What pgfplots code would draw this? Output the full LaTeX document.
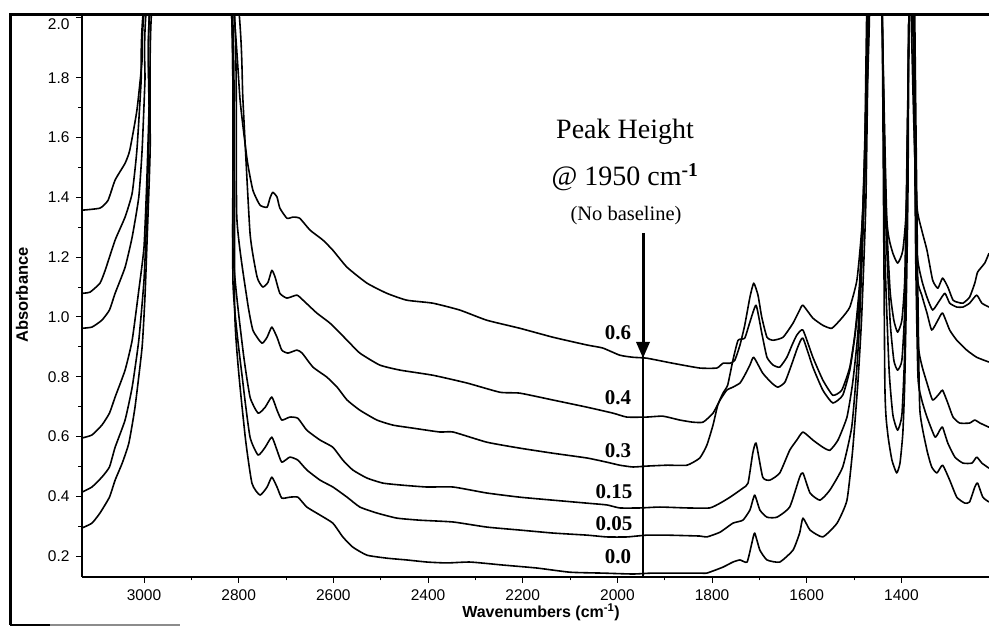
\documentclass[border=0pt]{standalone}
\usepackage{fontspec}
\setmainfont{Liberation Sans}
\newfontfamily\tnr{Liberation Serif}
\usepackage{pgfplots}
\pgfplotsset{compat=1.18}
\tikzset{spec/.style={black, line width=1.6pt, line join=round, mark=none, smooth, tension=0.3}}
\begin{document}
\begin{tikzpicture}
\path[use as bounding box] (0,0) rectangle (989pt,627pt);
\begin{axis}[
  at={(82pt,50pt)}, anchor=south west,
  width=907pt, height=562pt, scale only axis,
  x dir=reverse,
  xmin=1215, xmax=3131, ymin=0.13, ymax=2.01,
  axis x line*=bottom, axis y line*=left,
  axis line style={line width=2.6pt},
  xtick={1400,1600,1800,2000,2200,2400,2600,2800,3000},
  ytick={0.2,0.4,0.6,0.8,1.0,1.2,1.4,1.6,1.8},
  extra y ticks={2.0},
  extra y tick style={yticklabel style={yshift=-6pt}},
  minor x tick num=1, minor y tick num=1,
  tick align=outside,
  major tick length=6pt, minor tick length=3.5pt,
  tick style={line width=1pt,black},
  /pgf/number format/assume math mode=true,
  xticklabel style={/pgf/number format/set thousands separator={},
    font=\fontsize{15.5}{18}\selectfont, yshift=-3pt},
  yticklabel style={/pgf/number format/fixed, /pgf/number format/fixed zerofill,
    /pgf/number format/precision=1, font=\fontsize{15.5}{18}\selectfont, xshift=-3pt},
]
% 0.6
\addplot[spec] coordinates {(3131,1.357)(3093,1.364)(3076,1.390)(3061,1.458)(3040,1.514)(3030,1.558)(3015,1.691)(3004,1.859)(2998,2.05)(2900,3.5)(2812,2.05)(2797,1.725)(2782,1.524)(2770,1.424)(2755,1.374)(2740,1.367)(2734,1.397)(2728,1.417)(2719,1.401)(2713,1.364)(2698,1.330)(2685,1.334)(2671,1.330)(2649,1.290)(2622,1.257)(2601,1.223)(2571,1.166)(2529,1.113)(2487,1.079)(2445,1.056)(2390,1.046)(2333,1.023)(2276,0.989)(2206,0.962)(2136,0.932)(2064,0.906)(2031,0.896)(1995,0.872)(1967,0.865)(1938,0.862)(1883,0.845)(1826,0.829)(1790,0.829)(1777,0.845)(1762,0.845)(1752,0.855)(1741,0.906)(1731,0.972)(1720,1.066)(1712,1.113)(1703,1.073)(1695,0.999)(1684,0.932)(1671,0.922)(1650,0.932)(1629,0.979)(1615,1.023)(1608,1.039)(1587,0.996)(1566,0.972)(1547,0.962)(1526,0.996)(1509,1.033)(1494,1.123)(1484,1.290)(1475,1.558)(1469,2.05)(1440,3.5)(1400,3.5)(1380,2.05)(1374,1.658)(1367,1.367)(1357,1.290)(1346,1.223)(1334,1.123)(1323,1.096)(1313,1.130)(1302,1.100)(1291,1.056)(1281,1.049)(1270,1.046)(1256,1.066)(1245,1.113)(1239,1.150)(1224,1.180)(1215,1.213)};
% 0.4
\addplot[spec] coordinates {(3131,1.079)(3114,1.083)(3093,1.113)(3082,1.156)(3061,1.257)(3040,1.334)(3025,1.414)(3015,1.558)(3006,1.792)(3000,2.05)(2900,3.5)(2801,2.05)(2791,1.725)(2776,1.280)(2761,1.133)(2749,1.100)(2738,1.116)(2730,1.156)(2723,1.133)(2713,1.079)(2698,1.063)(2677,1.073)(2664,1.056)(2635,1.013)(2607,0.979)(2571,0.922)(2544,0.879)(2502,0.839)(2459,0.822)(2390,0.805)(2318,0.779)(2248,0.748)(2206,0.745)(2136,0.722)(2064,0.698)(2009,0.678)(1980,0.665)(1938,0.665)(1904,0.668)(1868,0.655)(1841,0.648)(1819,0.648)(1798,0.678)(1783,0.722)(1769,0.755)(1756,0.765)(1741,0.779)(1731,0.805)(1720,0.839)(1712,0.865)(1693,0.812)(1674,0.779)(1661,0.765)(1646,0.782)(1631,0.845)(1619,0.899)(1608,0.929)(1587,0.832)(1566,0.755)(1545,0.712)(1524,0.738)(1509,0.822)(1498,0.939)(1488,1.089)(1479,1.390)(1473,1.725)(1467,2.05)(1455,3.5)(1441,2.05)(1431,1.334)(1420,1.223)(1408,1.180)(1397,1.223)(1389,1.390)(1384,2.05)(1378,3.5)(1376,2.05)(1372,1.558)(1367,1.213)(1357,1.123)(1346,1.066)(1334,1.023)(1319,1.056)(1308,1.079)(1298,1.046)(1283,1.033)(1270,1.033)(1256,1.046)(1241,1.073)(1230,1.046)(1215,1.033)};
% 0.3
\addplot[spec] coordinates {(3131,0.962)(3110,0.966)(3089,0.989)(3073,1.023)(3061,1.079)(3040,1.166)(3025,1.267)(3011,1.401)(3004,1.558)(2998,1.792)(2994,2.05)(2900,3.5)(2810,2.05)(2804,1.334)(2782,1.056)(2770,0.956)(2751,0.912)(2740,0.932)(2730,0.966)(2719,0.932)(2709,0.889)(2696,0.879)(2677,0.889)(2666,0.879)(2643,0.832)(2614,0.799)(2592,0.765)(2571,0.722)(2544,0.688)(2508,0.655)(2474,0.638)(2432,0.628)(2375,0.615)(2347,0.615)(2276,0.581)(2206,0.561)(2136,0.544)(2064,0.528)(2022,0.514)(1995,0.504)(1967,0.498)(1938,0.501)(1895,0.504)(1853,0.504)(1826,0.528)(1811,0.571)(1798,0.638)(1788,0.705)(1777,0.745)(1767,0.772)(1756,0.855)(1745,0.922)(1731,0.929)(1720,0.983)(1707,1.039)(1695,0.946)(1684,0.865)(1671,0.839)(1657,0.832)(1642,0.865)(1631,0.906)(1621,0.939)(1608,0.956)(1587,0.865)(1566,0.789)(1545,0.738)(1526,0.755)(1509,0.832)(1498,0.946)(1488,1.123)(1477,1.558)(1471,2.05)(1455,3.5)(1441,2.05)(1433,1.390)(1424,1.089)(1416,0.989)(1408,0.949)(1399,0.989)(1393,1.123)(1389,1.458)(1384,2.05)(1378,3.5)(1374,2.05)(1372,1.658)(1367,1.146)(1357,1.073)(1346,1.013)(1336,0.956)(1323,0.989)(1313,1.013)(1298,0.956)(1283,0.922)(1262,0.889)(1241,0.865)(1215,0.849)};
% 0.15
\addplot[spec] coordinates {(3131,0.595)(3110,0.605)(3089,0.638)(3073,0.678)(3061,0.732)(3040,0.822)(3025,0.922)(3011,1.089)(3000,1.233)(2994,1.458)(2989,1.725)(2987,2.05)(2900,3.5)(2816,2.05)(2812,1.223)(2791,0.889)(2776,0.732)(2759,0.678)(2744,0.698)(2730,0.732)(2719,0.688)(2709,0.655)(2692,0.665)(2675,0.661)(2656,0.621)(2628,0.588)(2601,0.564)(2580,0.521)(2559,0.488)(2529,0.461)(2495,0.444)(2453,0.437)(2402,0.431)(2347,0.431)(2276,0.411)(2206,0.397)(2136,0.387)(2064,0.377)(2022,0.371)(1995,0.361)(1952,0.361)(1910,0.364)(1853,0.361)(1805,0.361)(1783,0.377)(1762,0.397)(1735,0.427)(1724,0.444)(1714,0.544)(1707,0.578)(1693,0.464)(1678,0.454)(1657,0.478)(1636,0.554)(1621,0.588)(1608,0.615)(1587,0.588)(1566,0.564)(1551,0.554)(1534,0.588)(1515,0.665)(1503,0.779)(1492,0.946)(1484,1.223)(1475,1.725)(1471,2.05)(1455,3.5)(1441,2.05)(1433,1.324)(1424,0.989)(1416,0.855)(1408,0.822)(1399,0.855)(1393,1.023)(1389,1.390)(1384,2.05)(1378,3.5)(1374,2.05)(1370,1.390)(1365,0.922)(1357,0.839)(1346,0.779)(1334,0.722)(1319,0.745)(1313,0.755)(1302,0.712)(1291,0.665)(1277,0.645)(1256,0.645)(1245,0.655)(1234,0.645)(1215,0.631)};
% 0.05
\addplot[spec] coordinates {(3131,0.414)(3110,0.431)(3089,0.464)(3073,0.498)(3061,0.564)(3040,0.655)(3025,0.765)(3011,0.922)(3000,1.123)(2994,1.347)(2989,1.658)(2987,2.05)(2900,3.5)(2816,2.05)(2812,1.113)(2791,0.779)(2776,0.598)(2759,0.538)(2744,0.564)(2730,0.598)(2719,0.554)(2709,0.514)(2692,0.531)(2675,0.521)(2656,0.488)(2628,0.454)(2601,0.431)(2571,0.397)(2544,0.364)(2508,0.344)(2466,0.327)(2417,0.320)(2347,0.314)(2276,0.297)(2206,0.287)(2136,0.277)(2064,0.270)(2022,0.264)(1980,0.264)(1938,0.270)(1895,0.270)(1826,0.267)(1811,0.264)(1783,0.280)(1756,0.310)(1735,0.320)(1720,0.354)(1710,0.404)(1699,0.354)(1684,0.330)(1663,0.330)(1636,0.364)(1615,0.464)(1608,0.478)(1593,0.411)(1572,0.387)(1551,0.421)(1524,0.498)(1505,0.631)(1494,0.832)(1488,0.999)(1479,1.390)(1473,2.05)(1455,3.5)(1441,2.05)(1435,1.223)(1426,0.822)(1418,0.672)(1408,0.621)(1399,0.672)(1393,0.889)(1389,1.324)(1384,2.05)(1378,3.5)(1374,2.05)(1370,1.223)(1365,0.799)(1357,0.722)(1346,0.665)(1329,0.598)(1319,0.621)(1313,0.631)(1302,0.578)(1287,0.531)(1270,0.511)(1251,0.511)(1241,0.531)(1230,0.511)(1215,0.494)};
% 0.0
\addplot[spec] coordinates {(3131,0.294)(3110,0.310)(3093,0.344)(3073,0.397)(3061,0.454)(3046,0.511)(3032,0.578)(3019,0.698)(3004,0.899)(2998,1.066)(2994,1.233)(2987,1.558)(2983,2.05)(2900,3.5)(2814,2.05)(2808,0.999)(2787,0.611)(2772,0.444)(2755,0.404)(2740,0.431)(2730,0.464)(2719,0.431)(2709,0.394)(2692,0.397)(2675,0.397)(2656,0.364)(2628,0.337)(2601,0.310)(2580,0.264)(2559,0.230)(2529,0.203)(2487,0.193)(2445,0.187)(2402,0.180)(2360,0.177)(2311,0.180)(2242,0.170)(2170,0.160)(2100,0.146)(2031,0.143)(1967,0.140)(1925,0.143)(1826,0.143)(1811,0.143)(1777,0.163)(1756,0.180)(1741,0.187)(1726,0.180)(1716,0.243)(1710,0.277)(1699,0.220)(1684,0.187)(1657,0.180)(1629,0.220)(1615,0.277)(1608,0.327)(1593,0.287)(1566,0.264)(1536,0.310)(1515,0.387)(1503,0.554)(1492,0.779)(1484,0.999)(1475,1.390)(1469,2.05)(1455,3.5)(1441,2.05)(1435,0.779)(1429,0.611)(1420,0.521)(1410,0.478)(1403,0.511)(1397,0.611)(1393,0.779)(1389,1.113)(1386,1.447)(1384,2.05)(1378,3.5)(1372,2.05)(1365,1.056)(1361,0.688)(1346,0.554)(1336,0.498)(1325,0.478)(1313,0.504)(1298,0.454)(1283,0.397)(1266,0.377)(1256,0.381)(1245,0.431)(1239,0.444)(1228,0.397)(1215,0.381)};
\end{axis}
% frame and annotations in pixel coordinates of the picture
\begin{scope}[x=1pt,y=-1pt,yshift=627pt]
  \draw[line width=3pt] (10,15) -- (989,15);
  \draw[line width=3pt] (10,13.5) -- (10,625);
  \draw[line width=2.5pt] (10,625) -- (50,625);
  \draw[line width=1.5pt,black!45] (50,625) -- (180,625);
  \node[rotate=90,font=\fontsize{16.5}{18}\selectfont\bfseries] at (22,295) {Absorbance};
  \node[font=\fontsize{16}{18}\selectfont\bfseries] at (541,612) {Wavenumbers (cm\textsuperscript{-1})};
  \node[font=\tnr\fontsize{28}{32}\selectfont] at (625,132) {Peak Height};
  \node[font=\tnr\fontsize{28}{32}\selectfont] at (625,177) {@ 1950 cm\textsuperscript{\bfseries -1}};
  \node[font=\tnr\fontsize{20.5}{24}\selectfont] at (626,216) {(No baseline)};
  \draw[line width=3pt] (643,233) -- (643,343);
  \fill (636,342) -- (650,342) -- (643,358) -- cycle;
  \draw[line width=1.6pt] (643,356) -- (643,577);
  \begin{scope}[every node/.style={font=\tnr\fontsize{21}{24}\selectfont\bfseries}]
    \node at (618,333) {0.6};
    \node at (618,398) {0.4};
    \node at (618,451) {0.3};
    \node at (614,492) {0.15};
    \node at (614,524) {0.05};
    \node at (618,557) {0.0};
  \end{scope}
\end{scope}
\end{tikzpicture}
\end{document}
